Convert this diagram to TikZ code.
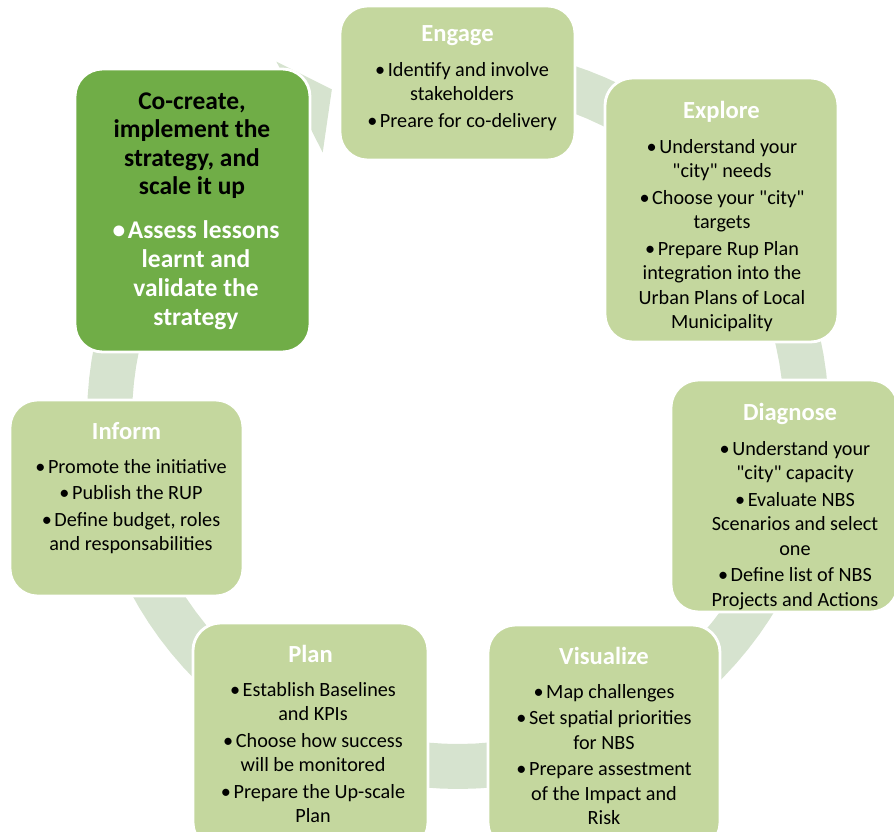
\documentclass[tikz,border=0pt]{standalone}
\usepackage{fontspec}
\setmainfont{Carlito}
\newfontfamily\stepfont{Carlito}
\usepackage{xcolor}
\usetikzlibrary{positioning}
\definecolor{boxgreen}{RGB}{196,215,158}
\definecolor{darkgreen}{RGB}{112,173,71}
\definecolor{ringgreen}{RGB}{214,227,207}
\newcommand{\bul}{\textbullet\kern1.5pt}
\tikzset{
	stepbox/.style={rounded corners=0.55cm, fill=boxgreen, draw=white, line width=1.6pt, inner sep=0pt},
	steptitle/.style={anchor=base, inner sep=0pt, text=white, font=\stepfont\bfseries\fontsize{14}{17}\selectfont},
	stepbody/.style={anchor=north, inner sep=0pt, align=center, font=\stepfont\fontsize{11.5}{13.9}\selectfont}
}

\begin{document}
\begin{tikzpicture}[x=0.02cm,y=-0.02cm]
	\useasboundingbox (0,0) rectangle (894,832);
	\clip (0,0) rectangle (894,832);
	\def\ringin{326}
	\def\ringout{371}
	% circular arrow behind the steps
	\fill[ringgreen, shift={(458,418)}] plot[domain=-95:243, samples=120] (\x:\ringout)
		-- (243:400) -- (249:352) -- (243:298)
		-- plot[domain=243:-95, samples=120] (\x:\ringin) -- cycle;
	\foreach 
	\name/\cx/\cy/\w/\h
	in
	{
		engage/457.5/83/235/154,
		explore/721.5/210/233/264,
		diagnose/784.5/496/227/232,
		visualize/604/737.5/232/225,
		plan/310.5/736.5/235/227,
		inform/126.5/498/233/196
	}
	{
		\node[stepbox, minimum width=\w*0.02cm, minimum height=\h*0.02cm] (\name) at (\cx,\cy) {};
	}
	\node[stepbox, fill=darkgreen, minimum width=4.7cm, minimum height=5.66cm] (cocreate) at (192.5,210.5) {};

	\node[steptitle] (engage-t) at (457.5,41) {Engage};
	\node[stepbody] (engage-b) at (462,62) {\bul Identify and involve\\stakeholders\\[1.2pt]\bul Preare for co-delivery};

	\node[steptitle] (explore-t) at (721.5,118) {Explore};
	\node[stepbody] (explore-b) at (722,139) {\bul Understand your\\"city" needs\\[1.2pt]\bul Choose your "city"\\targets\\[1.2pt]\bul Prepare Rup Plan\\integration into the\\Urban Plans of Local\\Municipality};

	\node[steptitle] (diagnose-t) at (790,420) {Diagnose};
	\node[stepbody] (diagnose-b) at (795,441) {\bul Understand your\\"city" capacity\\[1.2pt]\bul Evaluate NBS\\Scenarios and select\\one\\[1.2pt]\bul Define list of NBS\\Projects and Actions};

	\node[steptitle] (visualize-t) at (604,664) {Visualize};
	\node[stepbody] (visualize-b) at (604,684) {\bul Map challenges\\[1.2pt]\bul Set spatial priorities\\for NBS\\[1.2pt]\bul Prepare assestment\\of the Impact and\\Risk};

	\node[steptitle] (plan-t) at (310.5,662) {Plan};
	\node[stepbody] (plan-b) at (313,682) {\bul Establish Baselines\\and KPIs\\[1.2pt]\bul Choose how success\\will be monitored\\[1.2pt]\bul Prepare the Up-scale\\Plan};

	\node[steptitle] (inform-t) at (126.5,439) {Inform};
	\node[stepbody] (inform-b) at (131,459) {\bul Promote the initiative\\[1.2pt]\bul Publish the RUP\\[1.2pt]\bul Define budget, roles\\and responsabilities};

	\node[stepbody, font=\stepfont\bfseries\fontsize{14.5}{16.3}\selectfont] (cocreate-t) at (192,92) {Co-create,\\implement the\\strategy, and\\scale it up};
	\node[stepbody, text=white, font=\stepfont\bfseries\fontsize{14.5}{16.6}\selectfont] (cocreate-b) at (196,220) {\bul Assess lessons\\learnt and\\validate the\\strategy};
\end{tikzpicture}
\end{document}
